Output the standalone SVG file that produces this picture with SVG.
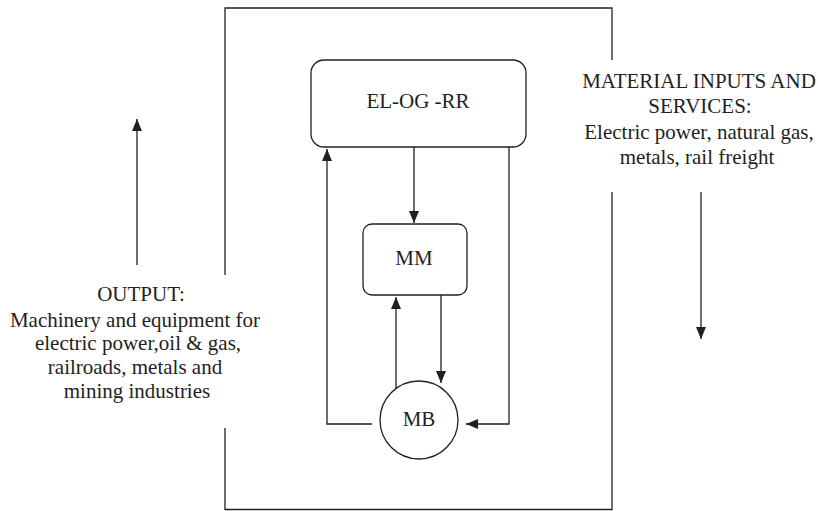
<svg xmlns="http://www.w3.org/2000/svg" width="818" height="511" viewBox="0 0 818 511">
  <style>
    .line { fill: none; stroke: #231f20; stroke-width: 1.3; }
    .box { fill: #ffffff; stroke: #231f20; stroke-width: 1.3; }
  </style>
  <defs>
    <marker id="arrow" markerUnits="userSpaceOnUse" markerWidth="13" markerHeight="11" refX="12" refY="5" orient="auto">
      <path d="M0,0 L12,5 L0,10 Z" fill="#231f20"/>
    </marker>
  </defs>

  <rect width="818" height="511" fill="#ffffff"/>

  <!-- Sector boundary, open where the output and input flows cross it -->
  <g id="boundary" class="line">
    <path d="M225,275 V8 H612 V60"/>
    <path d="M612,192 V509.5 H225 V428"/>
  </g>

  <!-- Connectors -->
  <g id="connectors" class="line">
    <path d="M414,147 V223" marker-end="url(#arrow)"/>
    <path d="M396,388 V297" marker-end="url(#arrow)"/>
    <path d="M441,295 V383" marker-end="url(#arrow)"/>
    <path d="M372,424 H327 V149" marker-end="url(#arrow)"/>
    <path d="M509,147 V424 H466" marker-end="url(#arrow)"/>
    <path d="M137,265 V119" marker-end="url(#arrow)"/>
    <path d="M701,192 V339" marker-end="url(#arrow)"/>
  </g>

  <g id="node-el-og-rr" font-family="Liberation Serif" font-size="21" fill="#231f20" text-anchor="middle">
    <rect class="box" x="311" y="60" width="215" height="87" rx="13"/>
    <text x="418" y="108">EL-OG -RR</text>
  </g>

  <g id="node-mm" font-family="Liberation Serif" font-size="21" fill="#231f20" text-anchor="middle">
    <rect class="box" x="363" y="224" width="104" height="71" rx="9"/>
    <text x="414" y="265">MM</text>
  </g>

  <g id="node-mb" font-family="Liberation Serif" font-size="21" fill="#231f20" text-anchor="middle">
    <circle class="box" cx="419" cy="420" r="39"/>
    <text x="419" y="426">MB</text>
  </g>

  <g id="output-label" font-family="Liberation Serif" font-size="21" fill="#231f20" text-anchor="middle">
    <text x="141" y="301">OUTPUT:</text>
    <text x="135" y="327">Machinery and equipment for</text>
    <text x="138" y="350">electric power,oil &amp; gas,</text>
    <text x="135" y="374">railroads, metals and</text>
    <text x="137" y="398">mining industries</text>
  </g>

  <g id="input-label" font-family="Liberation Serif" font-size="21" fill="#231f20" text-anchor="middle">
    <text x="699" y="88">MATERIAL INPUTS AND</text>
    <text x="700" y="113">SERVICES:</text>
    <text x="699" y="139">Electric power, natural gas,</text>
    <text x="697" y="164">metals, rail freight</text>
  </g>
</svg>
